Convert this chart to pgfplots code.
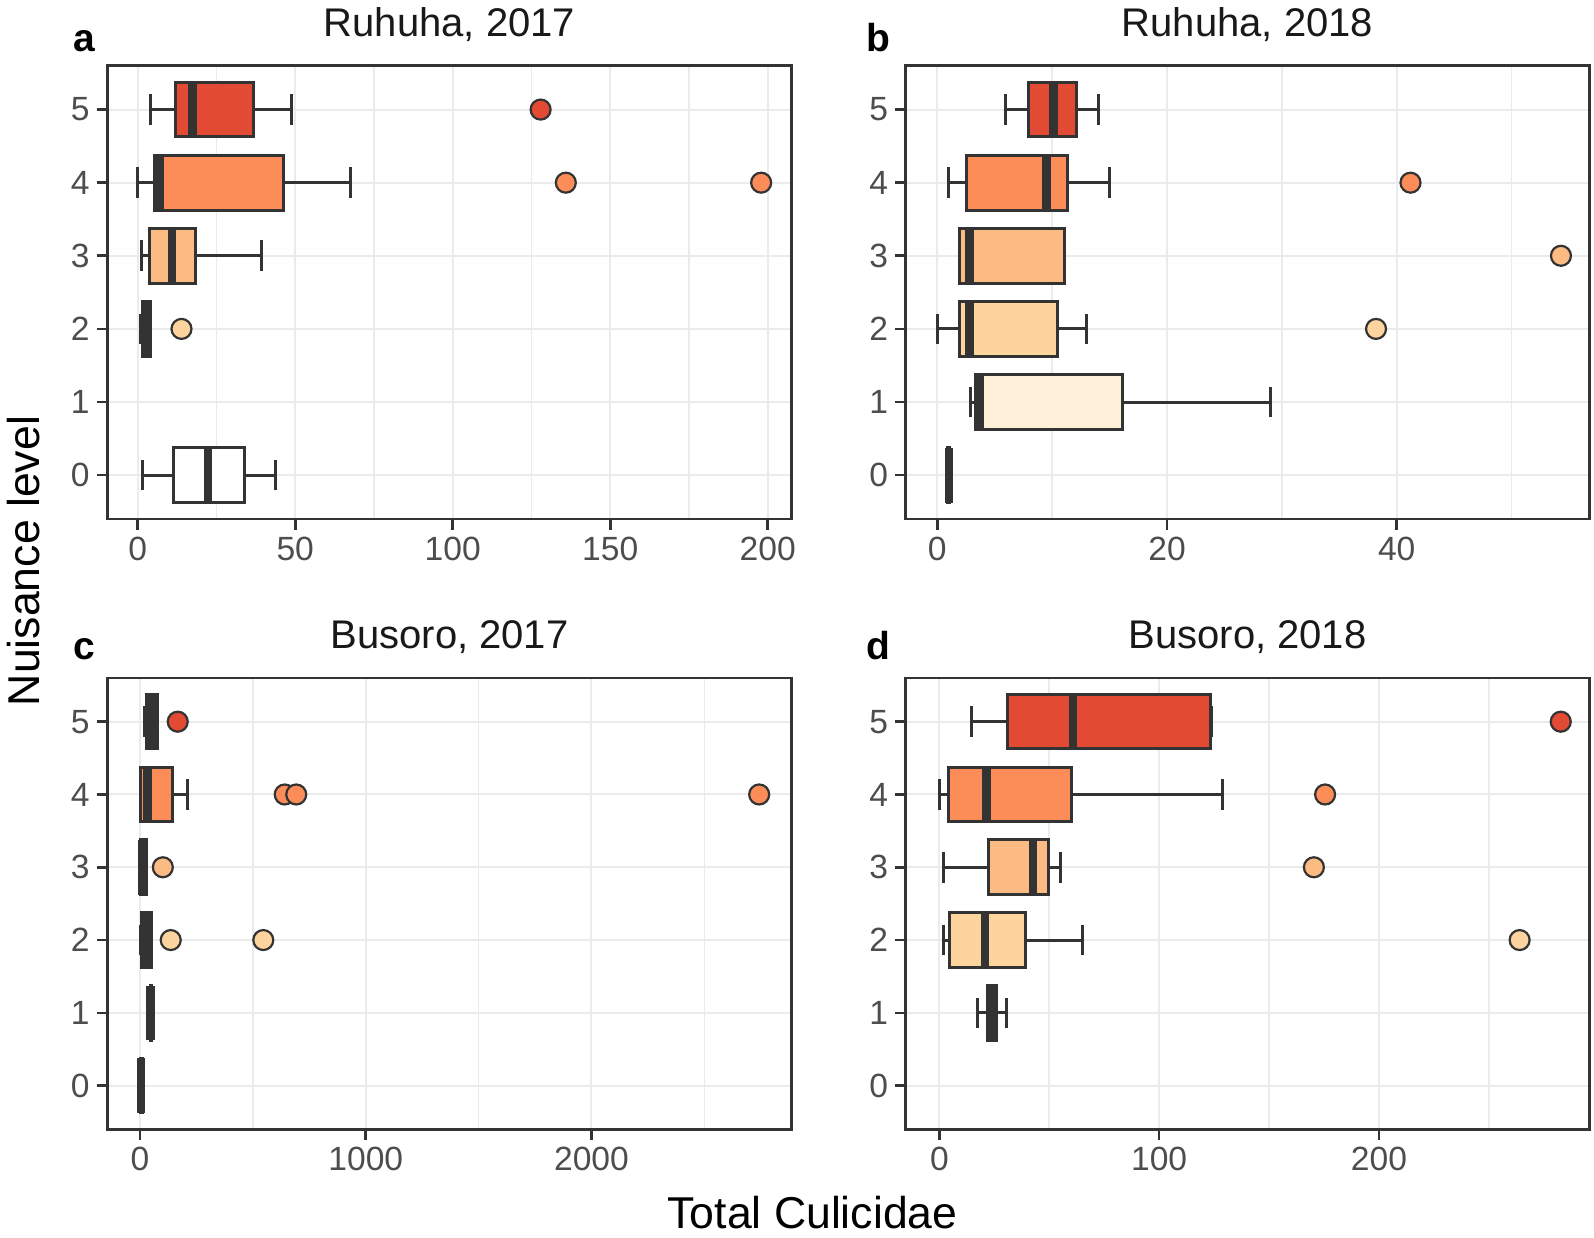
\documentclass[border=0pt]{standalone}
\usepackage{pgfplots}
\pgfplotsset{compat=1.18}
\usepgfplotslibrary{statistics}
\usepackage{fontspec}
\setmainfont{Liberation Sans}
\definecolor{c0}{HTML}{FFFFFF}
\definecolor{c1}{HTML}{FEF0D9}
\definecolor{c2}{HTML}{FDD49E}
\definecolor{c3}{HTML}{FDBB84}
\definecolor{c4}{HTML}{FC8D59}
\definecolor{c5}{HTML}{E34A33}
\definecolor{edge}{HTML}{333333}
\definecolor{gridc}{HTML}{EBEBEB}
\definecolor{tickc}{HTML}{4D4D4D}
\pgfplotsset{
  panel/.style={
    scale only axis, anchor=south west,
    ymin=-0.6, ymax=5.6, ytick={0,1,2,3,4,5}, yticklabels={0,1,2,3,4,5},
    tick pos=left, tick align=outside, major tick length=5.3pt, minor tick length=0pt,
    every tick/.style={edge, line width=1.3pt},
    axis line style={line width=1.4pt, edge},
    xmajorgrids, xminorgrids, ymajorgrids,
    major grid style={gridc, line width=1pt},
    minor grid style={gridc, line width=0.8pt},
    tick label style={font=\fontsize{16.8}{18}\selectfont, text=tickc},
    boxplot/draw direction=x,
    boxplot/box extend=0.75,
    boxplot/whisker extend=0.42,
    boxplot/every median/.style={line width=4.2pt, draw=edge},
    boxplot/every whisker/.style={line width=1.5pt, draw=edge},
  },
  bx/.style={boxplot/every box/.style={draw=edge, line width=1.5pt, fill=#1}},
  out/.style={only marks, mark=*, mark size=5pt, mark options={draw=edge, line width=1.1pt, fill=#1}},
}
\begin{document}
\begin{tikzpicture}
\path[use as bounding box] (0pt,0pt) rectangle (797pt,618.5pt);

% ---------- a: Ruhuha 2017
\begin{axis}[panel, at={(53.65pt,359pt)}, width=342.2pt, height=226.65pt,
  xmin=-9.65, xmax=207.6, xtick={0,50,100,150,200}, xticklabels={0,50,100,150,200},
  minor xtick={25,75,125,175}]
\addplot[bx=c5, boxplot prepared={lower whisker=4.2, lower quartile=12.0, median=17.4, upper quartile=36.8, upper whisker=48.9, draw position=5}] coordinates {};
\addplot[bx=c4, boxplot prepared={lower whisker=0, lower quartile=5.4, median=7.1, upper quartile=46.2, upper whisker=67.7, draw position=4}] coordinates {};
\addplot[bx=c3, boxplot prepared={lower whisker=1.1, lower quartile=3.9, median=10.9, upper quartile=18.3, upper whisker=39.2, draw position=3}] coordinates {};
\addplot[bx=c2, boxplot prepared={lower whisker=1.0, lower quartile=1.5, median=2.5, upper quartile=4.2, upper whisker=4.2, draw position=2}] coordinates {};
\addplot[bx=c0, boxplot prepared={lower whisker=1.4, lower quartile=11.3, median=22.4, upper quartile=34.0, upper whisker=43.7, draw position=0}] coordinates {};
\addplot[out=c5] coordinates {(127.9,5)};
\addplot[out=c4] coordinates {(135.9,4) (197.9,4)};
\addplot[out=c2] coordinates {(13.9,2)};
\end{axis}

% ---------- b: Ruhuha 2018
\begin{axis}[panel, at={(452.85pt,359pt)}, width=341.8pt, height=226.65pt,
  xmin=-2.75, xmax=56.77, xtick={0,20,40}, xticklabels={0,20,40},
  minor xtick={10,30,50}]
\addplot[bx=c5, boxplot prepared={lower whisker=5.9, lower quartile=7.9, median=10.1, upper quartile=12.1, upper whisker=14.0, draw position=5}] coordinates {};
\addplot[bx=c4, boxplot prepared={lower whisker=1.0, lower quartile=2.5, median=9.5, upper quartile=11.3, upper whisker=15.0, draw position=4}] coordinates {};
\addplot[bx=c3, boxplot prepared={lower whisker=1.9, lower quartile=1.9, median=2.8, upper quartile=11.1, upper whisker=11.1, draw position=3}] coordinates {};
\addplot[bx=c2, boxplot prepared={lower whisker=0, lower quartile=1.9, median=2.8, upper quartile=10.5, upper whisker=13.0, draw position=2}] coordinates {};
\addplot[bx=c1, boxplot prepared={lower whisker=2.9, lower quartile=3.3, median=3.7, upper quartile=16.1, upper whisker=29.0, draw position=1}] coordinates {};
\addplot[bx=c0, boxplot prepared={lower whisker=0.9, lower quartile=0.9, median=1.0, upper quartile=1.1, upper whisker=1.1, draw position=0}] coordinates {};
\addplot[out=c4] coordinates {(41.2,4)};
\addplot[out=c3] coordinates {(54.3,3)};
\addplot[out=c2] coordinates {(38.2,2)};
\end{axis}

% ---------- c: Busoro 2017
\begin{axis}[panel, at={(53.65pt,53.85pt)}, width=342.2pt, height=225.65pt,
  xmin=-145, xmax=2887, xtick={0,1000,2000}, xticklabels={0,1000,2000},
  minor xtick={500,1500,2500}]
\addplot[bx=c5, boxplot prepared={lower whisker=20, lower quartile=27, median=50, upper quartile=76, upper whisker=76, draw position=5}] coordinates {};
\addplot[bx=c4, boxplot prepared={lower whisker=0, lower quartile=4, median=33, upper quartile=144, upper whisker=212, draw position=4}] coordinates {};
\addplot[bx=c3, boxplot prepared={lower whisker=0, lower quartile=0, median=10, upper quartile=30, upper whisker=30, draw position=3}] coordinates {};
\addplot[bx=c2, boxplot prepared={lower whisker=0, lower quartile=5, median=25, upper quartile=50, upper whisker=50, draw position=2}] coordinates {};
\addplot[bx=c1, boxplot prepared={lower whisker=44, lower quartile=45, median=47, upper quartile=49, upper whisker=50, draw position=1}] coordinates {};
\addplot[bx=c0, boxplot prepared={lower whisker=0, lower quartile=0, median=4, upper quartile=10, upper whisker=10, draw position=0}] coordinates {};
\addplot[out=c5] coordinates {(167,5)};
\addplot[out=c4] coordinates {(641,4) (692,4) (2743,4)};
\addplot[out=c3] coordinates {(101,3)};
\addplot[out=c2] coordinates {(136,2) (546,2)};
\end{axis}

% ---------- d: Busoro 2018
\begin{axis}[panel, at={(452.85pt,53.85pt)}, width=341.8pt, height=225.65pt,
  xmin=-15.3, xmax=295.7, xtick={0,100,200}, xticklabels={0,100,200},
  minor xtick={50,150,250}]
\addplot[bx=c5, boxplot prepared={lower whisker=14.7, lower quartile=31.2, median=60.8, upper quartile=123.3, upper whisker=124, draw position=5}] coordinates {};
\addplot[bx=c4, boxplot prepared={lower whisker=0, lower quartile=4, median=21.5, upper quartile=60.2, upper whisker=129, draw position=4}] coordinates {};
\addplot[bx=c3, boxplot prepared={lower whisker=1.8, lower quartile=22.5, median=42.7, upper quartile=49.7, upper whisker=55.3, draw position=3}] coordinates {};
\addplot[bx=c2, boxplot prepared={lower whisker=1.8, lower quartile=4.6, median=20.7, upper quartile=39, upper whisker=65, draw position=2}] coordinates {};
\addplot[bx=c1, boxplot prepared={lower whisker=17.5, lower quartile=21.8, median=24, upper quartile=26.2, upper whisker=30.6, draw position=1}] coordinates {};
\addplot[out=c5] coordinates {(282.7,5)};
\addplot[out=c4] coordinates {(175.5,4)};
\addplot[out=c3] coordinates {(170.4,3)};
\addplot[out=c2] coordinates {(264,2)};
\end{axis}

% ---------- titles and labels
\node[anchor=base, inner sep=0pt, font=\fontsize{20}{24}\selectfont, text=black!90] at (224.75pt,600.25pt) {Ruhuha, 2017};
\node[anchor=base, inner sep=0pt, font=\fontsize{20}{24}\selectfont, text=black!90] at (623.75pt,600.25pt) {Ruhuha, 2018};
\node[anchor=base, inner sep=0pt, font=\fontsize{20}{24}\selectfont, text=black!90] at (224.75pt,294pt) {Busoro, 2017};
\node[anchor=base, inner sep=0pt, font=\fontsize{20}{24}\selectfont, text=black!90] at (623.75pt,294pt) {Busoro, 2018};
\node[anchor=base west, inner sep=0pt, font=\bfseries\fontsize{19.5}{22}\selectfont] at (36.5pt,592.75pt) {a};
\node[anchor=base west, inner sep=0pt, font=\bfseries\fontsize{19.5}{22}\selectfont] at (433pt,592.75pt) {b};
\node[anchor=base west, inner sep=0pt, font=\bfseries\fontsize{19.5}{22}\selectfont] at (36.5pt,288.5pt) {c};
\node[anchor=base west, inner sep=0pt, font=\bfseries\fontsize{19.5}{22}\selectfont] at (433pt,288.5pt) {d};
\node[anchor=base, inner sep=0pt, font=\fontsize{22.3}{26}\selectfont] at (406.25pt,4.5pt) {Total Culicidae};
\node[anchor=base, rotate=90, inner sep=0pt, font=\fontsize{22.3}{26}\selectfont] at (20pt,338pt) {Nuisance level};
\end{tikzpicture}
\end{document}
